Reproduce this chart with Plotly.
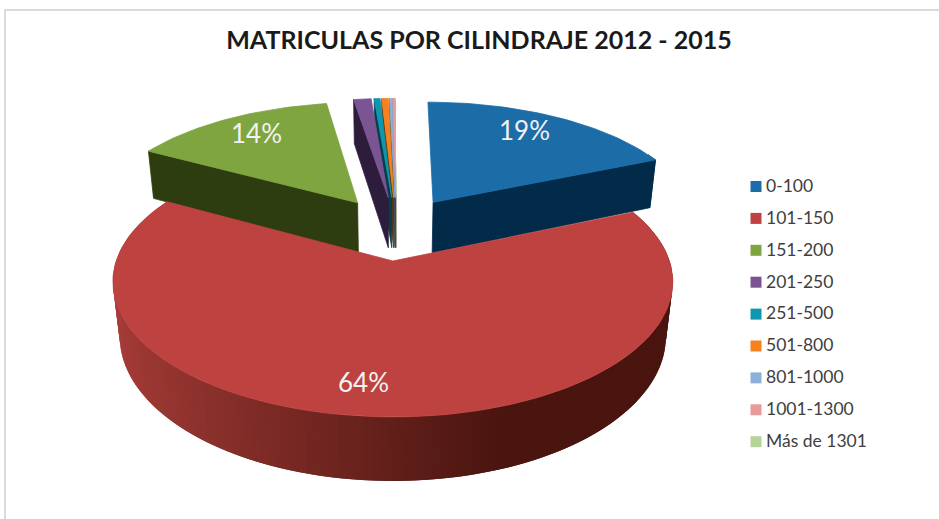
import numpy as np
import plotly.graph_objects as go

# datos del grafico
categorias = ['0-100', '101-150', '151-200', '201-250', '251-500', '501-800',
              '801-1000', '1001-1300', 'Más de 1301']
porcentajes = [18.6, 64.4, 14.5, 1.25, 0.42, 0.47, 0.17, 0.14, 0.05]
etiquetas = ['19%', '64%', '14%']
colores = ['#1c6ca8', '#be4240', '#7ea53f', '#7b5493', '#0e97ae',
           '#f5811f', '#8db0d8', '#e69a9a', '#b5d39a']
oscuros = ['#012b49', '#4a150f', '#2e3d10', '#2d1c3b', '#03404c',
           '#6a3208', '#3c4c60', '#5e3a3a', '#4a5a3a']

# camara de la tarta 3D (perspectiva)
CX, CY = 392, 261
D, A, B, C, K = 6.5, 1798.0, 858.0, 352.0, 0.16
OX, OY = 0.016, 0.26   # centro real antes de separar las porciones
EXPLOSION = 0.26


def proyectar(px, py, h):
    x = CX + A * px / (D + py + K * h)
    y = CY - (B * py - C * h) / (D + py)
    return x, y


def poligono(xs, ys, color, ancho=0.8):
    return go.Scatter(x=list(xs), y=list(ys), mode='lines', fill='toself', fillcolor=color,
                      line=dict(color=color, width=ancho), hoverinfo='skip', showlegend=False)


def mezclar(c1, c2, t):
    a = [int(c1[i:i + 2], 16) for i in (1, 3, 5)]
    b = [int(c2[i:i + 2], 16) for i in (1, 3, 5)]
    return 'rgb(%d,%d,%d)' % tuple(a[i] + (b[i] - a[i]) * t for i in range(3))


def porcion(ini, fin, color, oscuro, gradiente=False):
    trazas = []
    medio = (ini + fin) / 2
    ax = OX + EXPLOSION * np.sin(medio)
    ay = OY + EXPLOSION * np.cos(medio)
    ang = np.linspace(ini, fin, max(3, int((fin - ini) / np.radians(1.5))))
    bx = ax + np.sin(ang)
    by = ay + np.cos(ang)

    # pared exterior, solo la parte que mira a la camara
    if gradiente:
        # franjas solapadas para que no se vean costuras
        for i in range(len(ang) - 1):
            x1, y1 = proyectar(bx[i:i + 3], by[i:i + 3], 0)
            x2, y2 = proyectar(bx[i:i + 3], by[i:i + 3], 1)
            t = min(1, ((np.sin(ang[i]) + 1) / 2) / 0.68)
            c = mezclar('#a83d39', oscuro, t)
            trazas.append(poligono(np.r_[x1, x2[::-1], x1[0]], np.r_[y1, y2[::-1], y1[0]], c, 0))
    else:
        frente = np.cos(ang) < 0.45
        if frente.sum() >= 2:
            x1, y1 = proyectar(bx[frente], by[frente], 0)
            x2, y2 = proyectar(bx[frente], by[frente], 1)
            trazas.append(poligono(np.r_[x1, x2[::-1], x1[0]], np.r_[y1, y2[::-1], y1[0]], oscuro))

    # paredes de corte que miran a la camara
    for borde, visible in ((ini, np.sin(ini) < 0), (fin, np.sin(fin) > 0)):
        if visible:
            ex, ey = ax + np.sin(borde), ay + np.cos(borde)
            pts = [proyectar(ax, ay, 0), proyectar(ex, ey, 0), proyectar(ex, ey, 1), proyectar(ax, ay, 1)]
            trazas.append(poligono([p[0] for p in pts] + [pts[0][0]],
                                   [p[1] for p in pts] + [pts[0][1]], oscuro))

    # cara superior
    x0, y0 = proyectar(ax, ay, 0)
    x1, y1 = proyectar(bx, by, 0)
    trazas.append(poligono(np.r_[x0, x1, x0], np.r_[y0, y1, y0], color))
    return trazas


fig = go.Figure()

total = sum(porcentajes)
bordes = np.cumsum([0] + porcentajes) / total * 2 * np.pi

# de atras hacia delante: porciones finas, verde, azul, roja
for i in [8, 7, 6, 5, 4, 3, 2, 0, 1]:
    for t in porcion(bordes[i], bordes[i + 1], colores[i], oscuros[i], gradiente=(i == 1)):
        fig.add_trace(t)

# leyenda
ley_y = [186 + 31.9 * i for i in range(len(categorias))]
fig.add_trace(go.Scatter(
    x=[756] * len(categorias), y=[v + 0.5 for v in ley_y], mode='markers',
    marker=dict(symbol='square', size=11, color=colores),
    hoverinfo='skip', showlegend=False,
))
fig.add_trace(go.Scatter(
    x=[766] * len(categorias), y=[v + 1.5 for v in ley_y], mode='text',
    text=categorias, textposition='middle right',
    textfont=dict(family='Lato', size=17.5, color='#404040'),
    hoverinfo='skip', showlegend=False,
))

# etiquetas de porcentaje
for texto, x, y in zip(etiquetas, [524, 363, 256], [130, 382, 133]):
    fig.add_annotation(x=x, y=y, text=texto, showarrow=False,
                       font=dict(family='Lato', size=26, color='#f2f2f2'))

fig.add_shape(type='rect', x0=5, y0=10, x1=960, y1=540,
              line=dict(color='#d0d0d0', width=1.5), layer='below')

fig.update_layout(
    title=dict(text='<b>MATRICULAS POR CILINDRAJE 2012 - 2015</b>', x=479 / 939, xanchor='center',
               y=1 - 40 / 519, yanchor='middle', font=dict(family='Lato', size=25, color='#1a1a1a')),
    width=939, height=519,
    margin=dict(l=0, r=0, t=0, b=0),
    paper_bgcolor='white', plot_bgcolor='white',
    xaxis=dict(range=[0, 939], visible=False, fixedrange=True),
    yaxis=dict(range=[519, 0], visible=False, fixedrange=True),
    showlegend=False,
)

fig.write_html("out.html", config=dict(displayModeBar=False),
               post_script="document.body.style.margin='0'")
